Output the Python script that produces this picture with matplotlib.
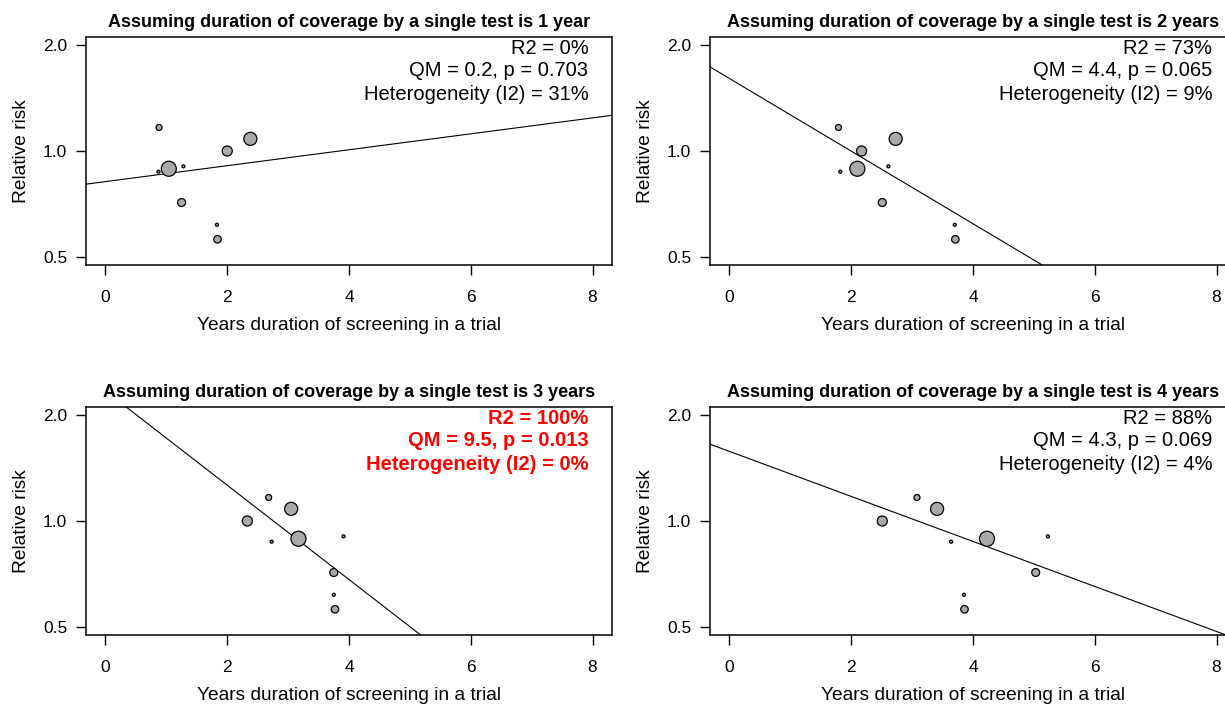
import numpy as np
import matplotlib
matplotlib.use('Agg')
import matplotlib.pyplot as plt
from matplotlib.transforms import blended_transform_factory

plt.rcParams['font.family'] = ['Liberation Sans', 'DejaVu Sans']

# ============================================================================
# DATOS
# ============================================================================
# riesgo relativo por ensayo (igual en los 4 paneles)
rr = [1.167, 0.890, 0.904, 0.873, 1.000, 1.083, 0.713, 0.616, 0.560]
# peso relativo de cada ensayo (tamano del punto)
weights = [0.40, 1.00, 0.20, 0.20, 0.67, 0.87, 0.53, 0.20, 0.50]

# anos de cribado por ensayo, segun la duracion supuesta de cobertura
years_1 = [0.88, 1.04, 1.28, 0.87, 2.00, 2.38, 1.25, 1.83, 1.84]
years_2 = [1.79, 2.10, 2.61, 1.82, 2.17, 2.73, 2.51, 3.70, 3.71]
years_3 = [2.68, 3.17, 3.91, 2.73, 2.33, 3.05, 3.75, 3.75, 3.77]
years_4 = [3.08, 4.23, 5.23, 3.64, 2.51, 3.41, 5.03, 3.85, 3.86]

# meta-regresion: log(RR) = a + b * anos
intercepts = [-0.201, 0.476, 0.854, 0.457]
slopes = [0.0523, -0.2384, -0.3096, -0.1478]

titles = ['Assuming duration of coverage by a single test is 1 year',
          'Assuming duration of coverage by a single test is 2 years',
          'Assuming duration of coverage by a single test is 3 years',
          'Assuming duration of coverage by a single test is 4 years']
r2_text = ['R2 = 0%', 'R2 = 73%', 'R2 = 100%', 'R2 = 88%']
qm_text = ['QM = 0.2, p = 0.703', 'QM = 4.4, p = 0.065',
           'QM = 9.5, p = 0.013', 'QM = 4.3, p = 0.069']
het_text = ['Heterogeneity (I2) = 31%', 'Heterogeneity (I2) = 9%',
            'Heterogeneity (I2) = 0%', 'Heterogeneity (I2) = 4%']
highlight = [False, False, True, False]

xticks = [0, 2, 4, 6, 8]
yticks = [0.5, 1.0, 2.0]
ytick_labels = ['0.5', '1.0', '2.0']

# ============================================================================
# GRAFICOS
# ============================================================================
W, H = 1225, 704
fig = plt.figure(figsize=(W / 100, H / 100), dpi=100)

# (left, top) de cada caja en pixeles
boxes = [(86, 37), (710, 37), (86, 407), (710, 407)]
bw, bh = 526, 228

all_years = [years_1, years_2, years_3, years_4]
xlim = (-0.32, 8.32)
ylim = (2 ** -1.08, 2 ** 1.08)

for i in range(4):
    left, top = boxes[i]
    ax = fig.add_axes([left / W, (H - top - bh) / H, bw / W, bh / H])
    ax.set_yscale('log')
    ax.set_xlim(*xlim)
    ax.set_ylim(*ylim)

    x = np.array(all_years[i])
    sizes = (15 * 0.72 * np.array(weights)) ** 2
    ax.scatter(x, rr, s=sizes, facecolor='#a9a9a9', edgecolor='black',
               linewidth=0.9, zorder=3)

    xs = np.linspace(xlim[0], xlim[1], 200)
    ax.plot(xs, np.exp(intercepts[i] + slopes[i] * xs), color='black',
            linewidth=0.8, zorder=2)

    ax.set_xticks(xticks)
    ax.set_xticklabels([str(t) for t in xticks])
    ax.set_yticks(yticks)
    ax.set_yticklabels(ytick_labels)
    ax.yaxis.set_minor_locator(matplotlib.ticker.NullLocator())
    ax.tick_params(axis='x', direction='out', length=7, width=1, pad=11,
                   labelsize=12.5)
    ax.tick_params(axis='y', direction='out', length=7, width=1, pad=6.5,
                   labelsize=12.5)
    for sp in ax.spines.values():
        sp.set_linewidth(1.1)

    ax.set_title(titles[i], fontsize=13.0, fontweight='bold', pad=7)
    ax.set_xlabel('Years duration of screening in a trial', fontsize=13.8)
    ax.set_ylabel('Relative risk', fontsize=13.8)
    ax.xaxis.set_label_coords(0.5, -0.265)
    ax.xaxis.label.set_va('center')
    ax.yaxis.set_label_coords(-0.123, 0.5)
    ax.yaxis.label.set_va('center')

    color = 'red' if highlight[i] else 'black'
    weight = 'bold' if highlight[i] else 'normal'
    trans = blended_transform_factory(ax.transData, ax.transAxes)
    for j, txt in enumerate([r2_text[i], qm_text[i], het_text[i]]):
        ax.text(7.93, 1 - (11 + 23 * j) / bh, txt, transform=trans,
                ha='right', va='center', fontsize=14.5, color=color,
                fontweight=weight)

plt.savefig('out.png', dpi=100)
plt.close()
